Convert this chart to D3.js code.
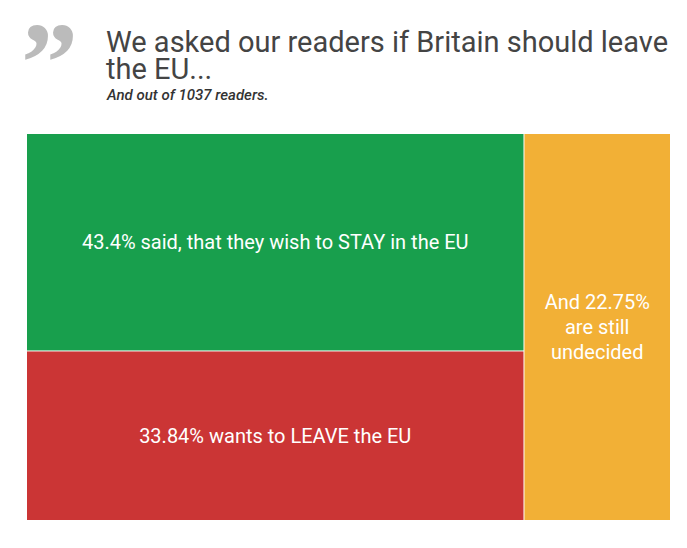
<!DOCTYPE html>
<html>
<head>
<meta charset="utf-8">
<script src="https://cdn.jsdelivr.net/npm/d3@7"></script>
<style>
  html, body { margin: 0; padding: 0; background: #fff; }
  svg { display: block; font-family: Roboto, "Noto Sans", sans-serif; }
</style>
</head>
<body>
<svg id="chart" width="687" height="548"></svg>
<script>
const titleLines = ["We asked our readers if Britain should leave", "the EU..."];
const subtitle = "And out of 1037 readers.";
const categories = ["stay", "leave", "undecided"];
const values = [43.4, 33.84, 22.75];
const labels = [
  "43.4% said, that they wish to STAY in the EU",
  "33.84% wants to LEAVE the EU",
  "And 22.75% are still undecided"
];
const colors = ["#189f4d", "#cb3535", "#f2b036"];

const svg = d3.select("#chart");

// quote mark
svg.append("text")
  .attr("x", 21).attr("y", 101)
  .attr("font-family", "'Liberation Serif', 'DejaVu Serif', serif")
  .attr("font-size", 114).attr("font-weight", 700)
  .attr("fill", "#bbbbbb")
  .text("\u201D");

const title = svg.append("text")
  .attr("x", 106).attr("y", 52)
  .attr("font-size", 29).attr("fill", "#444444");
titleLines.forEach((t, i) => {
  title.append("tspan").attr("x", 106).attr("y", 52 + i * 27).text(t);
});
svg.append("text")
  .attr("x", 107).attr("y", 99.5)
  .attr("font-size", 15).attr("font-style", "italic").attr("font-weight", 500)
  .attr("fill", "#333333")
  .text(subtitle);

// treemap
const data = {
  name: "root",
  children: [
    { name: "group", children: [
      { name: categories[0], value: values[0], label: labels[0], color: colors[0] },
      { name: categories[1], value: values[1], label: labels[1], color: colors[1] }
    ]},
    { name: categories[2], value: values[2], label: labels[2], color: colors[2] }
  ]
};

const x0 = 27, y0 = 134, x1 = 670, y1 = 520;
const root = d3.hierarchy(data).sum(d => d.value || 0);
d3.treemap()
  .tile(d3.treemapSliceDice)
  .size([x1 - x0, y1 - y0])
  .paddingInner(1)
  .round(false)(root);

const g = svg.append("g").attr("transform", `translate(${x0},${y0})`);
const leaves = g.selectAll("g.cell").data(root.leaves()).join("g").attr("class", "cell");

leaves.append("rect")
  .attr("x", d => d.x0).attr("y", d => d.y0)
  .attr("width", d => d.x1 - d.x0).attr("height", d => d.y1 - d.y0)
  .attr("fill", d => d.data.color);

const fs = 20, lh = 25;
leaves.each(function(d) {
  const cell = d3.select(this);
  const maxW = (d.x1 - d.x0) - 16;
  const t = cell.append("text")
    .attr("font-size", fs).attr("fill", "#ffffff")
    .attr("text-anchor", "middle");
  const words = d.data.label.split(" ");
  const lines = [];
  let cur = [];
  const probe = t.append("tspan");
  words.forEach(w => {
    const test = cur.concat([w]).join(" ");
    probe.text(test);
    if (probe.node().getComputedTextLength() > maxW && cur.length) {
      lines.push(cur.join(" "));
      cur = [w];
    } else {
      cur.push(w);
    }
  });
  if (cur.length) lines.push(cur.join(" "));
  probe.remove();
  const cx = (d.x0 + d.x1) / 2, cy = (d.y0 + d.y1) / 2;
  const startY = cy - (lines.length - 1) * lh / 2 + fs * 0.35;
  lines.forEach((l, i) => {
    t.append("tspan").attr("x", cx).attr("y", startY + i * lh).text(l);
  });
});
</script>
</body>
</html>
